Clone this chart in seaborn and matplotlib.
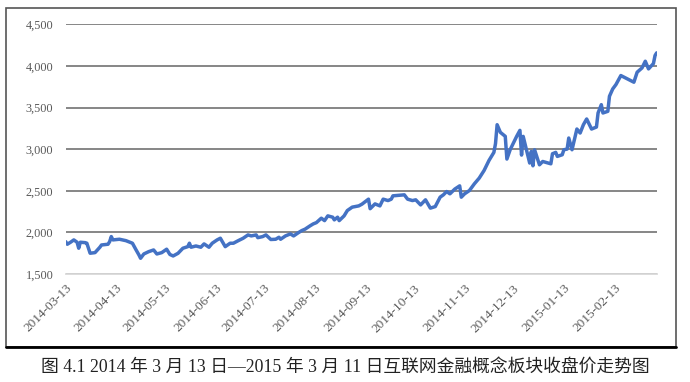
import matplotlib
matplotlib.use("Agg")
import matplotlib.pyplot as plt
import matplotlib.dates as mdates
import matplotlib.patches as mpatches
import pandas as pd
import seaborn as sns

# 互联网金融概念板块收盘价
start_date = "2014-03-13"
day_offset = [0, 1, 3, 5, 7, 8, 9, 12, 13, 15, 18, 21, 22, 26, 27, 28, 29, 33, 37, 41,
              43, 45, 46, 48, 51, 54, 56, 59, 62, 64, 66, 69, 72, 75, 76, 77, 80, 83, 85, 88,
              90, 93, 95, 98, 101, 103, 106, 109, 112, 114, 117, 118, 121, 123, 126, 129, 131, 132, 135, 138,
              140, 143, 145, 147, 150, 152, 154, 157, 159, 161, 164, 165, 167, 168, 171, 173, 176, 180, 182, 185,
              186, 187, 190, 193, 195, 198, 200, 201, 208, 210, 213, 215, 218, 221, 224, 227, 230, 232, 234, 236,
              239, 242, 243, 245, 248, 251, 254, 257, 260, 263, 264, 265, 267, 270, 271, 273, 275, 277, 279, 280,
              281, 283, 285, 286, 287, 288, 291, 293, 298, 299, 301, 302, 305, 306, 308, 309, 311, 314, 316, 318,
              320, 322, 323, 326, 327, 329, 330, 333, 334, 336, 338, 341, 349, 351, 354, 356, 358, 361, 362, 363]
close_price = [1889, 1858, 1882, 1910, 1882, 1810, 1882, 1877, 1870, 1750, 1757, 1822, 1849, 1858, 1889, 1950, 1910, 1918, 1901, 1870,
               1798, 1729, 1689, 1741, 1769, 1789, 1741, 1757, 1798, 1735, 1717, 1749, 1810, 1829, 1870, 1822, 1837, 1822, 1862, 1822,
               1870, 1910, 1930, 1829, 1870, 1870, 1901, 1930, 1970, 1958, 1970, 1937, 1950, 1970, 1915, 1918, 1942, 1918, 1958, 1982,
               1958, 1998, 2022, 2039, 2078, 2102, 2118, 2171, 2142, 2199, 2183, 2151, 2183, 2142, 2199, 2263, 2304, 2319, 2340, 2385,
               2400, 2285, 2343, 2319, 2400, 2383, 2400, 2440, 2452, 2400, 2383, 2392, 2331, 2392, 2292, 2311, 2424, 2452, 2492, 2464,
               2521, 2560, 2424, 2464, 2504, 2584, 2653, 2745, 2865, 2962, 3067, 3295, 3203, 3155, 2882, 2994, 3075, 3155, 3227, 2930,
               3155, 2994, 2834, 2974, 2801, 2994, 2813, 2853, 2825, 2946, 2962, 2914, 2934, 2994, 3002, 3135, 2994, 3243, 3195, 3295,
               3364, 3283, 3243, 3267, 3436, 3536, 3436, 3456, 3637, 3725, 3778, 3886, 3806, 3926, 3978, 4058, 3966, 4030, 4127, 4159]
end_date = "2015-03-11"
tick_dates = ["2014-03-13", "2014-04-13", "2014-05-13", "2014-06-13", "2014-07-13", "2014-08-13",
              "2014-09-13", "2014-10-13", "2014-11-13", "2014-12-13", "2015-01-13", "2015-02-13"]
y_ticks = [1500, 2000, 2500, 3000, 3500, 4000, 4500]
caption = "图 4.1 2014 年 3 月 13 日—2015 年 3 月 11 日互联网金融概念板块收盘价走势图"

df = pd.DataFrame({
    "日期": pd.Timestamp(start_date) + pd.to_timedelta(day_offset, unit="D"),
    "收盘价": close_price,
})

sns.set_style("white")
plt.rcParams["font.family"] = ["Liberation Serif", "Noto Sans CJK SC"]

fig = plt.figure(figsize=(6.9, 3.82), dpi=100)
ax = fig.add_axes([0.0952, 0.2827, 0.8565, 0.6532])

sns.lineplot(x="日期", y="收盘价", data=df, ax=ax, color="#4472C4", linewidth=2.5)

ax.set_xlim(pd.Timestamp(start_date), pd.Timestamp(end_date))
ax.set_ylim(1500, 4500)
ax.set_yticks(y_ticks)
ax.set_yticklabels([f"{v:,}" for v in y_ticks])
ax.set_xticks(pd.to_datetime(tick_dates))
ax.xaxis.set_major_formatter(mdates.DateFormatter("%Y-%m-%d"))
plt.setp(ax.get_xticklabels(), rotation=45, ha="right", rotation_mode="anchor")

ax.set_xlabel("")
ax.set_ylabel("")
ax.grid(axis="y", color="#868686", linewidth=1.4)
ax.grid(axis="x", visible=False)
for side in ["top", "right", "left"]:
    ax.spines[side].set_visible(False)
ax.spines["bottom"].set_color("#d9d9d9")
ax.spines["bottom"].set_linewidth(1.3)
ax.tick_params(axis="x", colors="#d9d9d9", length=4, width=1, direction="out",
               labelcolor="#595959", labelsize=9.5, pad=2)
ax.tick_params(axis="y", length=0, labelcolor="#595959", labelsize=8.8, pad=9)

# 外框
fig.patches.append(mpatches.Rectangle((6 / 690, 35 / 382), 670 / 690, 339 / 382,
                                      transform=fig.transFigure, fill=False,
                                      edgecolor="#555555", linewidth=1.2))
fig.add_artist(plt.Line2D([6 / 690, 676 / 690], [35 / 382, 35 / 382],
                          transform=fig.transFigure, color="black", linewidth=2))

fig.text(0.5, 15 / 382, caption, ha="center", va="center", fontsize=12.8, color="#222222")

fig.savefig("out.png", dpi=100)
